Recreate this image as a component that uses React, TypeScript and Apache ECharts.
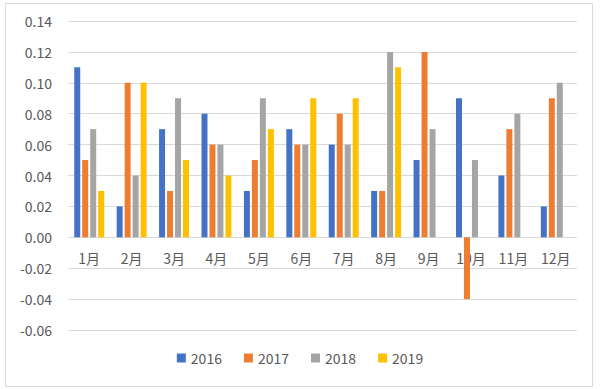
import React, { useEffect, useRef } from "react";
import * as echarts from "echarts";

const categories = ["1月", "2月", "3月", "4月", "5月", "6月", "7月", "8月", "9月", "10月", "11月", "12月"];
const seriesNames = ["2016", "2017", "2018", "2019"];
const s2016 = [0.11, 0.02, 0.07, 0.08, 0.03, 0.07, 0.06, 0.03, 0.05, 0.09, 0.04, 0.02];
const s2017 = [0.05, 0.10, 0.03, 0.06, 0.05, 0.06, 0.08, 0.03, 0.12, -0.04, 0.07, 0.09];
const s2018 = [0.07, 0.04, 0.09, 0.06, 0.09, 0.06, 0.06, 0.12, 0.07, 0.05, 0.08, 0.10];
const s2019 = [0.03, 0.10, 0.05, 0.04, 0.07, 0.09, 0.09, 0.11, null, null, null, null];
const colors = ["#4472C4", "#ED7D31", "#A5A5A5", "#FFC000"];
const yMin = -0.06;
const yMax = 0.14;

export default function App() {
  const ref = useRef<HTMLDivElement>(null);
  useEffect(() => {
    if (!ref.current) return;
    const chart = echarts.init(ref.current, undefined, { renderer: "svg" });
    const font = "'Microsoft YaHei', 'Noto Sans CJK SC', 'Noto Sans', sans-serif";
    const allData = [s2016, s2017, s2018, s2019];
    const gridTop = 21;
    const gridBottom = 59;
    const plotH = 389 - gridTop - gridBottom;
    const zeroOffset = -(plotH * (0 - yMin)) / (yMax - yMin);
    chart.setOption({
      animation: false,
      color: colors,
      textStyle: { fontFamily: font },
      graphic: [
        {
          type: "rect",
          shape: { x: 5.5, y: 3.5, width: 587, height: 383 },
          style: { fill: "none", stroke: "#d9d9d9", lineWidth: 1 },
          silent: true,
        },
      ],
      grid: { left: 68, right: 23, top: gridTop, bottom: gridBottom, containLabel: false },
      legend: {
        data: seriesNames,
        bottom: 19,
        left: "center",
        itemWidth: 9,
        itemHeight: 9,
        itemGap: 22,
        icon: "rect",
        textStyle: { color: "#595959", fontSize: 14, fontFamily: font },
      },
      xAxis: {
        type: "category",
        data: categories,
        offset: zeroOffset,
        axisTick: { show: false },
        axisLine: { show: false, onZero: false },
        axisLabel: { color: "#595959", fontSize: 14, margin: 14, fontFamily: font },
      },
      yAxis: {
        type: "value",
        min: yMin,
        max: yMax,
        interval: 0.02,
        axisLine: { show: false },
        axisTick: { show: false },
        splitLine: { lineStyle: { color: "#d9d9d9" } },
        axisLabel: {
          color: "#595959",
          fontSize: 14,
          margin: 16,
          fontFamily: font,
          formatter: (v: number) => v.toFixed(2),
        },
      },
      series: seriesNames.map((name, i) => ({
        name,
        type: "bar",
        data: allData[i],
        barWidth: 6,
        barGap: "33%",
        itemStyle: { color: colors[i] },
      })),
    });
    return () => chart.dispose();
  }, []);
  return (
    <div
      ref={ref}
      style={{ position: "fixed", left: 0, top: 0, width: 600, height: 389, background: "#fff" }}
    />
  );
}
